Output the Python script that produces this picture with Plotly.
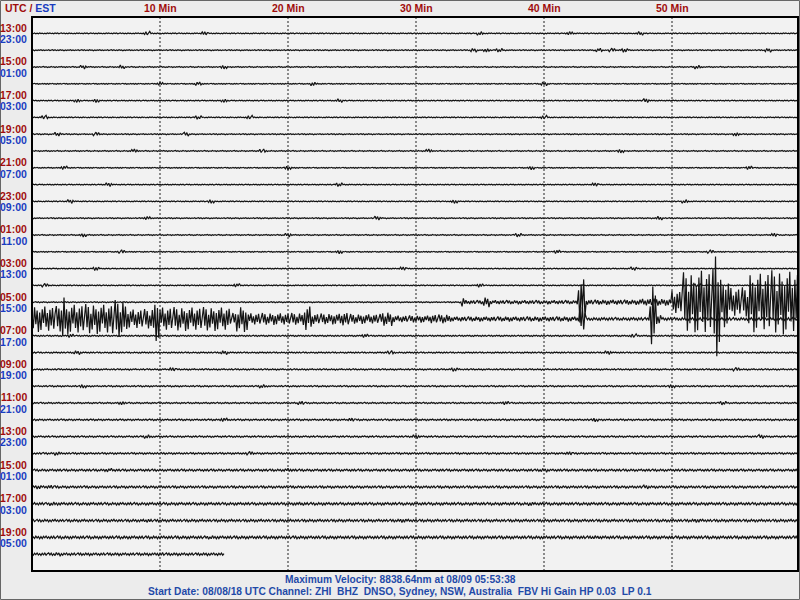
import numpy as np
import plotly.graph_objects as go

# ---------------- data ----------------
UTC_LABELS = ["13:00", "15:00", "17:00", "19:00", "21:00", "23:00", "01:00", "03:00",
              "05:00", "07:00", "09:00", "11:00", "13:00", "15:00", "17:00", "19:00"]
EST_LABELS = ["23:00", "01:00", "03:00", "05:00", "07:00", "09:00", "11:00", "13:00",
              "15:00", "17:00", "19:00", "21:00", "23:00", "01:00", "03:00", "05:00"]
MINUTE_TICKS = [10, 20, 30, 40, 50]
MINUTE_TEXT = ["10 Min", "20 Min", "30 Min", "40 Min", "50 Min"]

N_LINES = 32
LINE_END_MIN = [59.8] * 31 + [15.0]          # last hour line stops at 15 min

# background noise level of each hourly line (trace units)
BASE_AMP = [0.5, 0.5, 0.5, 0.5, 0.5, 0.5, 0.5, 0.5,
            0.5, 0.5, 0.5, 0.5, 0.5, 0.5, 0.5, 0.5,
            0.5, 1.5, 0.7, 0.7, 0.7, 0.7, 0.7, 0.8,
            0.8, 0.9, 1.1, 1.2, 1.3, 1.3, 1.4, 1.3]

# small local bursts on the quiet lines: line index, minute, amplitude
BURST_LINE = [0, 0, 0, 0, 0, 1, 1, 1, 1, 1, 1, 1,
              2, 2, 2, 2, 3, 3, 3, 3, 4, 4, 4, 4, 4,
              5, 5, 5, 5, 6, 6, 6, 6, 7, 7, 7, 7,
              8, 8, 8, 8, 9, 9, 9, 10, 10, 10, 10,
              11, 11, 11, 12, 12, 12, 12, 13, 13, 13, 13,
              14, 14, 14, 15, 15, 15, 15,
              18, 18, 18, 19, 19, 19, 19, 20, 20, 20,
              21, 21, 21, 22, 22, 22, 22, 23, 23, 23,
              24, 24, 24, 25, 25, 25, 26, 26, 26,
              27, 27, 27, 28, 28, 28, 29, 29, 29, 30, 30, 31, 31]
BURST_MIN = [9.0, 13.5, 35.0, 42.0, 47.5, 34.5, 35.5, 36.5, 44.3, 45.3, 46.3, 57.5,
             4.0, 7.0, 15.0, 52.0, 10.0, 13.0, 22.0, 40.0, 3.5, 5.0, 15.0, 24.0, 48.0,
             1.0, 13.0, 17.0, 40.0, 2.0, 5.0, 12.0, 55.0, 8.0, 18.0, 31.0, 46.0,
             2.5, 20.0, 39.0, 56.0, 6.0, 24.0, 44.0, 3.0, 14.0, 33.0, 51.0,
             9.0, 27.0, 49.0, 4.0, 20.0, 38.0, 58.0, 7.0, 24.0, 41.0, 53.0,
             5.0, 29.0, 47.0, 1.0, 16.0, 35.0, 52.0,
             3.0, 26.0, 47.0, 3.5, 15.0, 28.0, 45.0, 11.0, 33.0, 55.0,
             4.0, 18.0, 50.0, 7.0, 21.0, 37.0, 54.0, 15.0, 25.0, 44.0,
             9.0, 30.0, 57.0, 2.0, 17.0, 42.0, 6.0, 20.0, 40.0,
             0.5, 1.5, 48.0, 1.6, 21.0, 39.0, 9.0, 29.0, 52.0, 14.0, 44.0, 2.0, 10.0]
BURST_AMP = [2.0] * len(BURST_MIN)

# the earthquake (lines 16 and 17): line, start minute, end minute, amplitude
EVENT_LINE = [16] * 16 + [17] * 23
EVENT_START = [33.6, 33.9, 35.3, 35.8, 42.7, 43.3, 47.5, 50.0, 50.8, 52.0, 53.3, 53.8, 54.6, 56.0, 57.5, 59.9,
               0.0, 2.3, 2.65, 6.3, 7.35, 9.45, 10.0, 15.5, 16.0, 16.9, 21.3, 21.9, 24.1, 24.8, 27.4, 28.2,
               31.1, 32.7, 42.8, 43.3, 48.3, 48.75, 49.2]
EVENT_END = [33.9, 35.3, 35.8, 42.7, 43.3, 47.5, 50.0, 50.8, 52.0, 53.3, 53.8, 54.6, 56.0, 57.5, 59.9, 60.0,
             2.3, 2.65, 6.3, 7.35, 9.45, 10.0, 15.5, 16.0, 16.9, 21.3, 21.9, 24.1, 24.8, 27.4, 28.2, 31.1,
             32.7, 42.8, 43.3, 48.3, 48.75, 49.2, 60.0]
EVENT_AMP = [5.0, 2.0, 5.0, 2.0, 24.0, 2.5, 3.5, 12.0, 30.0, 33.0, 57.0, 25.0, 15.0, 30.0, 32.0, 32.0,
             13.0, 24.0, 15.0, 19.0, 10.0, 22.0, 12.0, 6.0, 13.0, 6.0, 13.0, 5.5, 7.0, 5.0, 7.0, 3.5,
             4.5, 2.5, 14.0, 1.5, 36.0, 5.0, 1.5]

# oscillation shape used to draw each wiggle
CARRIER = [1.0, -0.55, 0.8, -0.95, 0.35, -0.7, 0.9, -0.4, 0.65, -1.0, 0.5, -0.85,
           0.75, -0.3, 0.95, -0.6, 0.45, -0.9, 0.7, -0.5, 0.85, -0.75, 0.4]

MAX_VEL_TEXT = "Maximum Velocity: 8838.64nm at 08/09 05:53:38"
INFO_TEXT = "Start Date: 08/08/18 UTC Channel: ZHI  BHZ  DNSO, Sydney, NSW, Australia  FBV Hi Gain HP 0.03  LP 0.1"

# ---------------- build traces ----------------
STEP = 0.1          # minutes per sample
SCALE = 16.8        # trace units per line spacing

xs, ys = [], []
for i in range(N_LINES):
    t = np.round(np.arange(0.0, LINE_END_MIN[i] + 1e-9, STEP), 3)
    env = np.full(t.shape, BASE_AMP[i])
    for ln, m, a in zip(BURST_LINE, BURST_MIN, BURST_AMP):
        if ln == i:
            msk = np.abs(t - m) <= 0.25
            env[msk] = np.maximum(env[msk], a)
    for ln, s, e, a in zip(EVENT_LINE, EVENT_START, EVENT_END, EVENT_AMP):
        if ln == i:
            msk = (t >= s) & (t < e)
            env[msk] = a
    car = np.array([CARRIER[(k + 7 * i) % len(CARRIER)] for k in range(len(t))])
    y = i - env * car / SCALE
    xs.extend(t.tolist() + [None])
    ys.extend(y.tolist() + [None])

fig = go.Figure()
fig.add_trace(go.Scatter(x=xs, y=ys, mode="lines",
                         line=dict(color="#141414", width=1.2),
                         hoverinfo="skip", showlegend=False))

# ---------------- layout ----------------
L, R, T, B = 32, 2, 17, 29
W, H = 800, 600
PW, PH = W - L - R, H - T - B
X_MAX = PW / 12.8
Y_TOP = -(33.4 - T) / 16.8
Y_BOT = Y_TOP + PH / 16.8

def px_x(p):
    return (p - L) / PW

def px_y(p):
    return (H - B - p) / PH

RED = "#a00c0c"
BLUE = "#1a3cc0"
FONT = "Liberation Sans"

shapes = []
for m in MINUTE_TICKS:
    shapes.append(dict(type="line", xref="x", yref="paper", x0=m, x1=m, y0=0, y1=1,
                       line=dict(color="#222222", width=1, dash="2px,2px"), layer="above"))
# plot frame
shapes.append(dict(type="rect", xref="paper", yref="paper", x0=0, x1=1, y0=0, y1=1,
                   line=dict(color="black", width=2), layer="above"))
# page frame
shapes.append(dict(type="rect", xref="paper", yref="paper",
                   x0=px_x(0.5), x1=px_x(799.5), y0=px_y(599.5), y1=px_y(0.5),
                   line=dict(color="#666666", width=1), layer="above"))

annotations = []
for m, txt in zip(MINUTE_TICKS, MINUTE_TEXT):
    annotations.append(dict(x=m, xref="x", y=px_y(8), yref="paper", text="<b>%s</b>" % txt,
                            showarrow=False, xanchor="center", yanchor="middle",
                            font=dict(family=FONT, size=10.5, color=RED)))
annotations.append(dict(x=px_x(3), xref="paper", y=px_y(8), yref="paper",
                        text="<b><span style='color:%s'>UTC /</span> <span style='color:%s'>EST</span></b>" % (RED, BLUE),
                        showarrow=False, xanchor="left", yanchor="middle",
                        font=dict(family=FONT, size=10.5, color=RED)))
for k in range(len(UTC_LABELS)):
    line_i = 2 * k
    annotations.append(dict(x=px_x(29), xref="paper", y=line_i - 0.33, yref="y",
                            text="<b>%s</b>" % UTC_LABELS[k], showarrow=False,
                            xanchor="right", yanchor="middle",
                            font=dict(family=FONT, size=10.5, color=RED)))
    annotations.append(dict(x=px_x(29), xref="paper", y=line_i + 0.35, yref="y",
                            text="<b>%s</b>" % EST_LABELS[k], showarrow=False,
                            xanchor="right", yanchor="middle",
                            font=dict(family=FONT, size=10.5, color=BLUE)))
annotations.append(dict(x=px_x(400), xref="paper", y=px_y(579), yref="paper",
                        text="<b>%s</b>" % MAX_VEL_TEXT, showarrow=False,
                        xanchor="center", yanchor="middle",
                        font=dict(family=FONT, size=10.2, color="#1f4aa8")))
annotations.append(dict(x=px_x(400), xref="paper", y=px_y(591), yref="paper",
                        text="<b>%s</b>" % INFO_TEXT, showarrow=False,
                        xanchor="center", yanchor="middle",
                        font=dict(family=FONT, size=10.2, color="#1f4aa8")))

fig.update_layout(
    width=W, height=H,
    margin=dict(l=L, r=R, t=T, b=B, pad=0),
    paper_bgcolor="#ececec",
    plot_bgcolor="#f2f2f2",
    xaxis=dict(range=[0, X_MAX], showgrid=False, zeroline=False, showticklabels=False,
               showline=False, fixedrange=True),
    yaxis=dict(range=[Y_BOT, Y_TOP], showgrid=False, zeroline=False, showticklabels=False,
               showline=False, fixedrange=True),
    shapes=shapes,
    annotations=annotations,
    showlegend=False,
)

fig.write_html("out.html", config={"displayModeBar": False},
               post_script="document.body.style.margin='0px';document.body.style.overflow='hidden';")
